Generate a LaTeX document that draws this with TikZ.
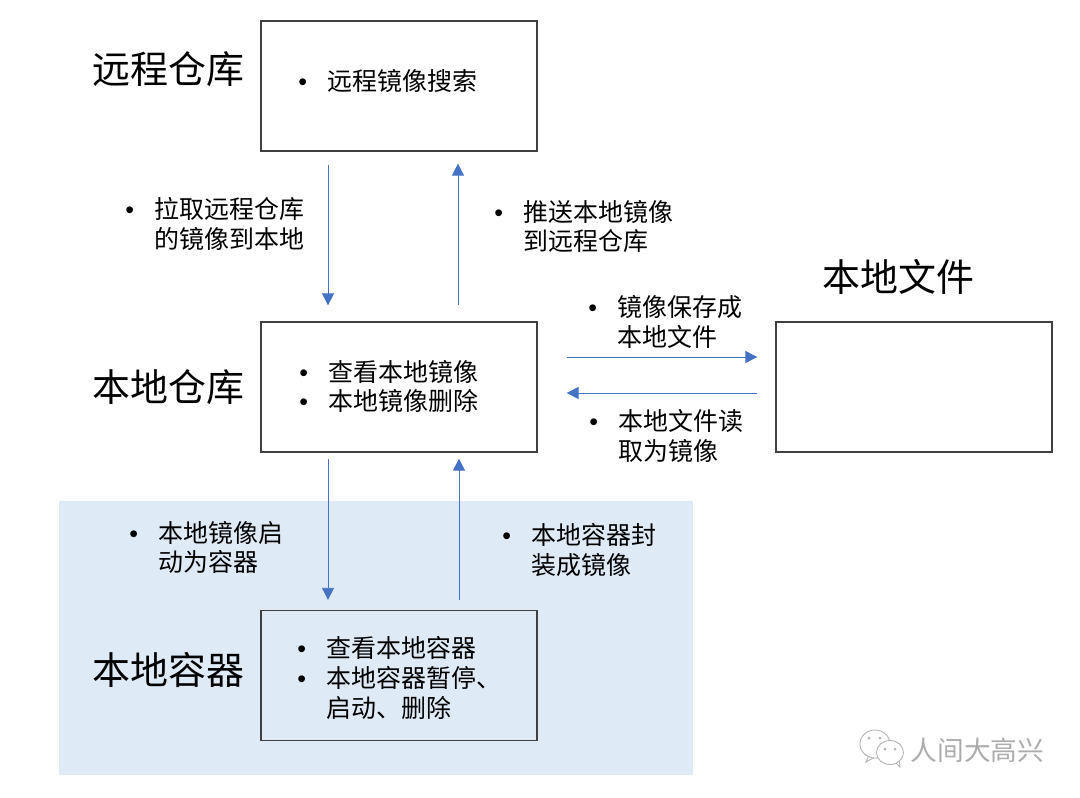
\documentclass[tikz,border=0pt]{standalone}
\usepackage{fontspec}
\setmainfont{Noto Sans CJK SC}
\newfontfamily\bulletfont{Liberation Sans}
\usetikzlibrary{arrows.meta}
\newcommand{\blt}{\makebox[0.58cm][l]{\bulletfont\textbullet}}
\newcommand{\nob}{\hspace*{0.58cm}}
\definecolor{boxgray}{HTML}{404040}
\definecolor{flowblue}{HTML}{4472C4}
\definecolor{shadeblue}{HTML}{DEEAF6}
\tikzset{
  repobox/.style={draw=boxgray,line width=0.75pt,minimum width=5.52cm,minimum height=2.6cm,inner sep=0pt},
  repotitle/.style={font=\fontsize{21.6}{26}\selectfont,inner sep=0pt},
  bodytext/.style={font=\fontsize{14.2}{17}\selectfont,anchor=west,align=left,inner sep=0pt},
  flow/.style={draw=flowblue,line width=0.5pt,-{Triangle[length=0.24cm,width=0.24cm]}},
  markgray/.style={draw=gray!60,line width=0.5pt,fill=white}
}
\begin{document}
\begin{tikzpicture}[x=0.02cm,y=-0.02cm]
  \useasboundingbox (0,0) rectangle (1080,798);
  \fill[shadeblue] (59,501) rectangle (693,775);
  % boxes
  \foreach \name/\x/\y in {remote/399/86, local/399/387, container/399/675.5, file/914/387}
    \node[repobox] (\name) at (\x,\y) {};
  % titles
  \foreach \name/\x/\y/\lab in {remotetitle/168.5/69/远程仓库, localtitle/168.5/387/本地仓库,
      containertitle/168.5/670/本地容器, filetitle/898.5/277/本地文件}
    \node[repotitle] (\name) at (\x,\y) {\lab};
  % bullet lists
  \foreach \name/\x/\y/\lab in {
      remotelist/298/81/{\blt 远程镜像搜索},
      pulllist/125/224/{\blt 拉取远程仓库\\\nob 的镜像到本地},
      pushlist/494/226.5/{\blt 推送本地镜像\\\nob 到远程仓库},
      savelist/588/322/{\blt 镜像保存成\\\nob 本地文件},
      loadlist/589/436/{\blt 本地文件读\\\nob 取为镜像},
      locallist/299/386.5/{\blt 查看本地镜像\\\blt 本地镜像删除},
      startlist/129/547.5/{\blt 本地镜像启\\\nob 动为容器},
      packlist/502/550/{\blt 本地容器封\\\nob 装成镜像},
      containerlist/297/678/{\blt 查看本地容器\\\blt 本地容器暂停、\\\nob 启动、删除}}
    \node[bodytext] (\name) at (\x,\y) {\lab};
  % arrows between the boxes
  \draw[flow] ([xshift=-1.42cm,yshift=-0.26cm]remote.south) -- ([xshift=-1.42cm,yshift=0.32cm]local.north);
  \draw[flow] ([xshift=1.18cm,yshift=0.32cm]local.north) -- ([xshift=1.18cm,yshift=-0.24cm]remote.south);
  \draw[flow] ([xshift=-1.42cm,yshift=-0.12cm]local.south) -- ([xshift=-1.42cm,yshift=0.2cm]container.north);
  \draw[flow] ([xshift=1.2cm,yshift=0.2cm]container.north) -- ([xshift=1.2cm,yshift=-0.12cm]local.south);
  \draw[flow] ([xshift=0.58cm,yshift=0.6cm]local.east) -- ([xshift=-0.36cm,yshift=0.6cm]file.west);
  \draw[flow] ([xshift=-0.36cm,yshift=-0.12cm]file.west) -- ([xshift=0.58cm,yshift=-0.12cm]local.east);
  % account mark in the corner
  \draw[markgray] (870,753) -- (866,762) -- (877,756);
  \draw[markgray] (875,744) ellipse (15 and 14);
  \draw[markgray] (894,761) -- (900,767) -- (899,757);
  \draw[markgray] (890,752.5) ellipse (13.5 and 12);
  \foreach \x/\y in {869/738, 880/738, 885/749, 895/749}
    \fill[gray!60] (\x,\y) circle (1.5);
  \node[font=\fontsize{15.2}{18}\selectfont,text=gray!65,inner sep=0pt] (marktext) at (977.5,750) {人间大高兴};
\end{tikzpicture}
\end{document}
